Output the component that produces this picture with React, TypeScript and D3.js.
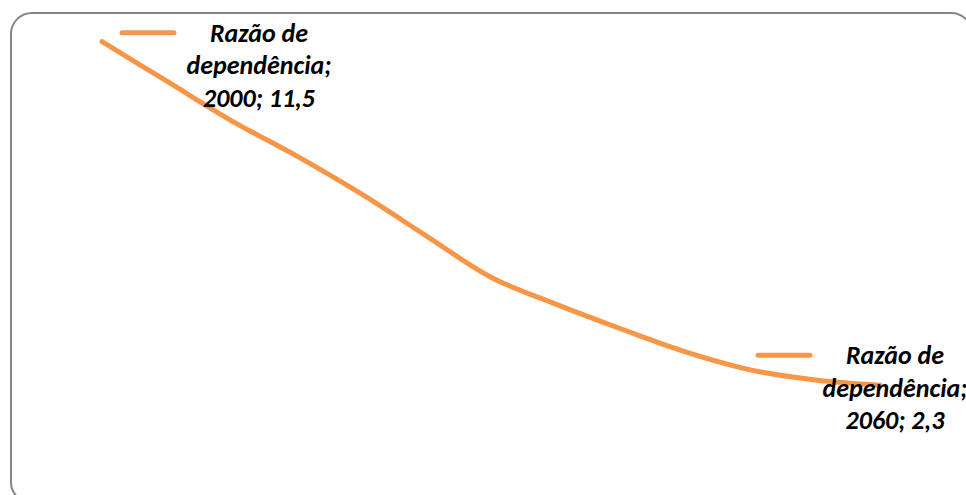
import React from "react";
import * as d3 from "d3";

// Dependency ratio projection, every five years
const years = [2000, 2005, 2010, 2015, 2020, 2025, 2030, 2035, 2040, 2045, 2050, 2055, 2060];
const ratio = [11.5, 10.44, 9.38, 8.44, 7.42, 6.3, 5.19, 4.47, 3.81, 3.19, 2.71, 2.44, 2.3];
const seriesName = "Razão de dependência";
const labelYears = [2000, 2060];

const W = 966;
const H = 495;
const ORANGE = "#F79646";

const fmt = (v: number) => String(v).replace(".", ",");

export default function App() {
  const x = d3.scaleLinear().domain([2000, 2060]).range([102, 880]);
  const y = d3.scaleLinear().domain([0, 12]).range([471, 23]);

  const line = d3
    .line<number>()
    .x((_, i) => x(years[i]))
    .y((d) => y(d))
    .curve(d3.curveCatmullRom.alpha(0.5));

  const fontSize = 26;
  const lineGap = 32.5;

  // Data label placement relative to its point
  const labelOffsets = [
    { dx: 157, dy: 0 },
    { dx: 15, dy: -21 },
  ];

  return (
    <svg
      width={W}
      height={H}
      style={{ position: "absolute", left: 0, top: 0, background: "#fff" }}
    >
      <rect
        x={11}
        y={13}
        width={961}
        height={490}
        rx={21}
        ry={21}
        fill="#fff"
        stroke="#868686"
        strokeWidth={2}
      />
      <path
        d={line(ratio) ?? ""}
        fill="none"
        stroke={ORANGE}
        strokeWidth={5}
        strokeLinecap="round"
        strokeLinejoin="round"
      />
      {labelYears.map((yr, k) => {
        const i = years.indexOf(yr);
        const px = x(yr);
        const py = y(ratio[i]);
        const cx = px + labelOffsets[k].dx;
        const by = py + labelOffsets[k].dy;
        const lines = ["Razão de", "dependência;", `${yr}; ${fmt(ratio[i])}`];
        return (
          <g key={yr}>
            <line
              x1={cx - 137}
              x2={cx - 85}
              y1={by - 9}
              y2={by - 9}
              stroke={ORANGE}
              strokeWidth={5}
              strokeLinecap="round"
            />
            <text
              x={cx}
              y={by}
              textAnchor="middle"
              fontFamily="Carlito, Calibri, Lato, sans-serif"
              fontWeight="bold"
              fontStyle="italic"
              fontSize={fontSize}
              fill="#000"
            >
              {lines.map((t, j) => (
                <tspan key={j} x={cx} y={by + j * lineGap}>
                  {t}
                </tspan>
              ))}
            </text>
          </g>
        );
      })}
      <title>{seriesName}</title>
    </svg>
  );
}
